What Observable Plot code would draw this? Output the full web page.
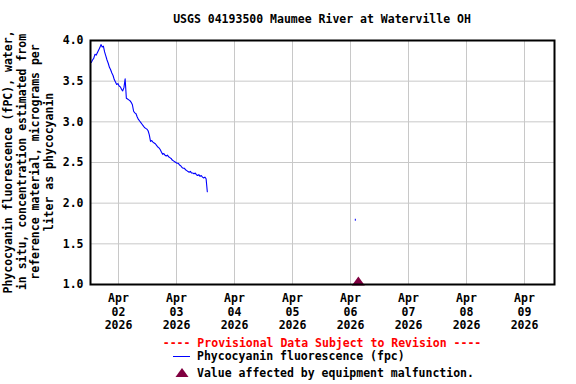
<!DOCTYPE html>
<html>
<head>
<meta charset="utf-8">
<script src="https://cdn.jsdelivr.net/npm/d3@7"></script>
<script src="https://cdn.jsdelivr.net/npm/@observablehq/plot@0.6"></script>
<style>
  html, body { margin: 0; padding: 0; background: #fff; }
  #wrap { position: relative; width: 576px; height: 384px; overflow: hidden;
          font-family: "DejaVu Sans Mono", monospace; font-weight: bold; font-size: 11.5px; color: #000; }
  #chart { position: absolute; left: 0; top: 0; }
  .abs { position: absolute; white-space: pre; line-height: 14px; }
</style>
</head>
<body>
<div id="wrap">
  <div id="chart"></div>
  <div class="abs" id="title" style="left:0; width:644px; top:12px; text-align:center;"></div>
  <div class="abs" id="prov" style="left:0; width:644px; top:336px; text-align:center; color:#ff0000;"></div>
  <svg class="abs" style="left:168px; top:349px;" width="28" height="32">
    <line x1="5" x2="22" y1="7.5" y2="7.5" stroke="#0000ff" stroke-width="1"></line>
    <path d="M14,19 L20.5,28 L7.5,28 Z" fill="#800040"></path>
  </svg>
  <div class="abs" id="leg1" style="left:197px; top:349px;"></div>
  <div class="abs" id="leg2" style="left:197px; top:366px;"></div>
</div>
<script>
// ---- data ----
const title = "USGS 04193500 Maumee River at Waterville OH";
const yLabelLines = [
  "Phycocyanin fluorescence (fPC), water,",
  "in situ, concentration estimated from",
  "reference material, micrograms per",
  "liter as phycocyanin"
];
const provisionalText = "---- Provisional Data Subject to Revision ----";
const seriesName = "Phycocyanin fluorescence (fpc)";
const flagName = "Value affected by equipment malfunction.";

// readings every 30 minutes starting 2026-04-01 12:45 UTC
const seriesStart = "2026-04-01T12:45:00Z";
const seriesStepMinutes = 30;
const fpcValues = [
  3.73, 3.76, 3.78, 3.83, 3.82, 3.85, 3.88, 3.91, 3.95, 3.92,
  3.93, 3.86, 3.81, 3.76, 3.72, 3.67, 3.64, 3.60, 3.57, 3.52,
  3.49, 3.46, 3.47, 3.44, 3.43, 3.40, 3.38, 3.42, 3.53, 3.29,
  3.28, 3.27, 3.26, 3.24, 3.21, 3.13, 3.11, 3.10, 3.06, 3.03,
  3.01, 2.99, 2.97, 2.95, 2.93, 2.92, 2.91, 2.89, 2.84, 2.76,
  2.77, 2.75, 2.74, 2.73, 2.71, 2.69, 2.68, 2.66, 2.63, 2.60,
  2.61, 2.59, 2.58, 2.59, 2.57, 2.56, 2.55, 2.53, 2.52, 2.51,
  2.50, 2.49, 2.49, 2.47, 2.46, 2.44, 2.43, 2.43, 2.41, 2.40,
  2.39, 2.38, 2.39, 2.37, 2.37, 2.36, 2.37, 2.35, 2.34, 2.35,
  2.33, 2.34, 2.32, 2.31, 2.32, 2.30, 2.14
];
// isolated reading
const isolatedTimes = ["2026-04-06T02:00:00Z"];
const isolatedValues = [1.79];
// equipment malfunction flag
const flagTimes = ["2026-04-06T03:15:00Z"];
const flagValues = [1.0];

const xDomain = ["2026-04-01T12:25:00Z", "2026-04-09T12:25:00Z"];
const xTickDays = ["2026-04-02", "2026-04-03", "2026-04-04", "2026-04-05",
                   "2026-04-06", "2026-04-07", "2026-04-08", "2026-04-09"];
const yTicks = [1.0, 1.5, 2.0, 2.5, 3.0, 3.5, 4.0];

// ---- build tables ----
const t0 = new Date(seriesStart).getTime();
const series = fpcValues.map((v, i) => ({t: new Date(t0 + i * seriesStepMinutes * 60000), v}));
const isolated = isolatedTimes.map((t, i) => ({t: new Date(t), v: isolatedValues[i]}));
const flags = flagTimes.map((t, i) => ({t: new Date(t), v: flagValues[i]}));
const xTicks = xTickDays.map(d => new Date(d + "T00:00:00Z"));

const flagSymbol = {
  draw(ctx) { ctx.moveTo(0, -8); ctx.lineTo(6.5, 1); ctx.lineTo(-6.5, 1); ctx.closePath(); }
};

const fmt = d3.utcFormat("%b\n%d\n%Y");

const plot = Plot.plot({
  width: 576,
  height: 336,
  marginLeft: 90,
  marginRight: 22,
  marginTop: 40,
  marginBottom: 52,
  style: {fontFamily: "DejaVu Sans Mono, monospace", fontWeight: "bold", fontSize: "11.5px", color: "#000", background: "#fff"},
  x: {type: "utc", domain: xDomain.map(d => new Date(d))},
  y: {domain: [1, 4]},
  marks: [
    Plot.gridX(xTicks, {stroke: "#c8c8c8", strokeOpacity: 1}),
    Plot.gridY(yTicks, {stroke: "#c8c8c8", strokeOpacity: 1}),
    Plot.axisY(yTicks, {tickSize: 0, tickPadding: 7, tickFormat: d3.format(".1f"), label: null}),
    Plot.axisX(xTicks, {tickSize: 0, tickPadding: 8, tickFormat: fmt, lineHeight: 1.17, label: null}),
    Plot.line(series, {x: "t", y: "v", stroke: "#0000ff", strokeWidth: 1.1}),
    Plot.ruleX(isolated, {x: "t", y1: d => d.v - 0.012, y2: d => d.v + 0.012, stroke: "#0000ff", strokeWidth: 1}),
    Plot.dot(flags, {x: "t", y: "v", symbol: flagSymbol, fill: "#800040", stroke: null, r: 6, clip: false}),
    Plot.frame({stroke: "#000", strokeWidth: 2})
  ]
});

const svg = d3.select(plot);
const labelX = [8, 21.5, 35, 48.5];
yLabelLines.forEach((s, i) => {
  svg.append("text")
    .attr("transform", `translate(${labelX[i]},162) rotate(-90)`)
    .attr("text-anchor", "middle")
    .attr("dominant-baseline", "central")
    .attr("fill", "#000")
    .text(s);
});

document.getElementById("chart").appendChild(plot);
document.getElementById("title").textContent = title;
document.getElementById("prov").textContent = provisionalText;
document.getElementById("leg1").textContent = seriesName;
document.getElementById("leg2").textContent = flagName;
</script>
</body>
</html>
